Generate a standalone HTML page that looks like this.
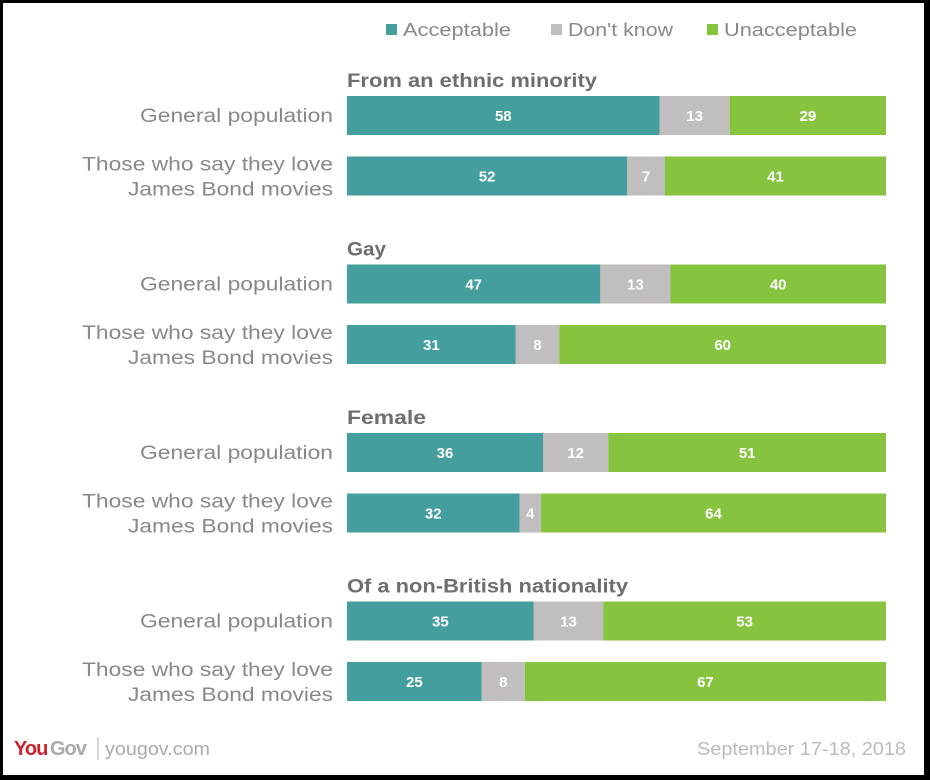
<!DOCTYPE html>
<html><head><meta charset="utf-8">
<style>
body{margin:0;width:930px;height:780px;background:#000;overflow:hidden;font-family:"Liberation Sans",sans-serif}
#frame{position:absolute;left:3px;top:3px;width:921px;height:772px;background:#fff}
svg{position:absolute;left:0;top:0}
</style></head>
<body>
<div id="frame"></div>
<svg id="chart" width="930" height="780"></svg>
<script>
const groups=["From an ethnic minority","Gay","Female","Of a non-British nationality"];
const acceptable=[58,52,47,31,36,32,35,25];
const dontKnow=[13,7,13,8,12,4,13,8];
const unacceptable=[29,41,40,60,51,64,53,67];
const seriesNames=["Acceptable","Don't know","Unacceptable"];
const colors=["#449e9e","#c0bebe","#86c440"];
const svg=document.getElementById('chart');
const NS='http://www.w3.org/2000/svg';
const x0=347, fullW=539;
const groupLen=[250,39,79,281];
const legLen=[108,105,133];
function rowY(i){const g=Math.floor(i/2), r=i%2; return 96+g*168.5+r*60.5;}
function mk(tag,attrs,text){const e=document.createElementNS(NS,tag);for(const k in attrs)e.setAttribute(k,attrs[k]);if(text!==undefined)e.textContent=text;svg.appendChild(e);return e;}
const legX=[386,551,707];
seriesNames.forEach((n,i)=>{
 const r=mk('rect',{x:legX[i],y:24,width:11,height:11,fill:colors[i]});
 
 
 const t=mk('text',{x:legX[i]+17,y:36,'font-size':18,fill:'#888',textLength:legLen[i],lengthAdjust:'spacingAndGlyphs'},n);
 
 
});
groups.forEach((g,i)=>{
 const t=mk('text',{x:347,y:87+i*168.5,'font-size':19,'font-weight':'bold',fill:'#6e6e6e',textLength:groupLen[i],lengthAdjust:'spacingAndGlyphs'},g);
 
 
});
const series=[acceptable,dontKnow,unacceptable];
for(let i=0;i<acceptable.length;i++){
 const y=rowY(i);
 if(i%2===0){
  const t=mk('text',{x:140,y:y+26,'font-size':19,fill:'#888',textLength:193,lengthAdjust:'spacingAndGlyphs'},'General population');
  
  
 } else {
  const t=mk('text',{x:82,y:y+14,'font-size':19,fill:'#888',textLength:251,lengthAdjust:'spacingAndGlyphs'},'Those who say they love');
  
  
  const t2=mk('text',{x:128,y:y+39,'font-size':19,fill:'#888',textLength:205,lengthAdjust:'spacingAndGlyphs'},'James Bond movies');
  
  
 }
 const total=acceptable[i]+dontKnow[i]+unacceptable[i];
 let cx=x0;
 series.forEach((s,j)=>{
  const w=s[i]/total*fullW;
  const r=mk('rect',{x:cx,y:y,width:w,height:39,fill:colors[j]});
  
  
  const t=mk('text',{x:cx+w/2,y:y+25,'font-size':15,'font-weight':'bold',fill:'#fff','text-anchor':'middle'},s[i]);
  
  
  cx+=w;
 });
}
let t=mk('text',{x:14,y:755,'font-size':20,'font-weight':'bold',fill:'#d0202e','letter-spacing':'-1'},'You');


t=mk('text',{x:50,y:755,'font-size':20,'font-weight':'bold',fill:'#aaa','letter-spacing':'-1'},'Gov');


const l=mk('line',{x1:98,y1:737,x2:98,y2:760,stroke:'#aaa','stroke-width':1});


t=mk('text',{x:105,y:755,'font-size':18,fill:'#aaa',textLength:105,lengthAdjust:'spacingAndGlyphs'},'yougov.com');


t=mk('text',{x:697,y:755,'font-size':18,fill:'#bbb',textLength:209,lengthAdjust:'spacingAndGlyphs'},'September 17-18, 2018');


</script>
</body></html>
